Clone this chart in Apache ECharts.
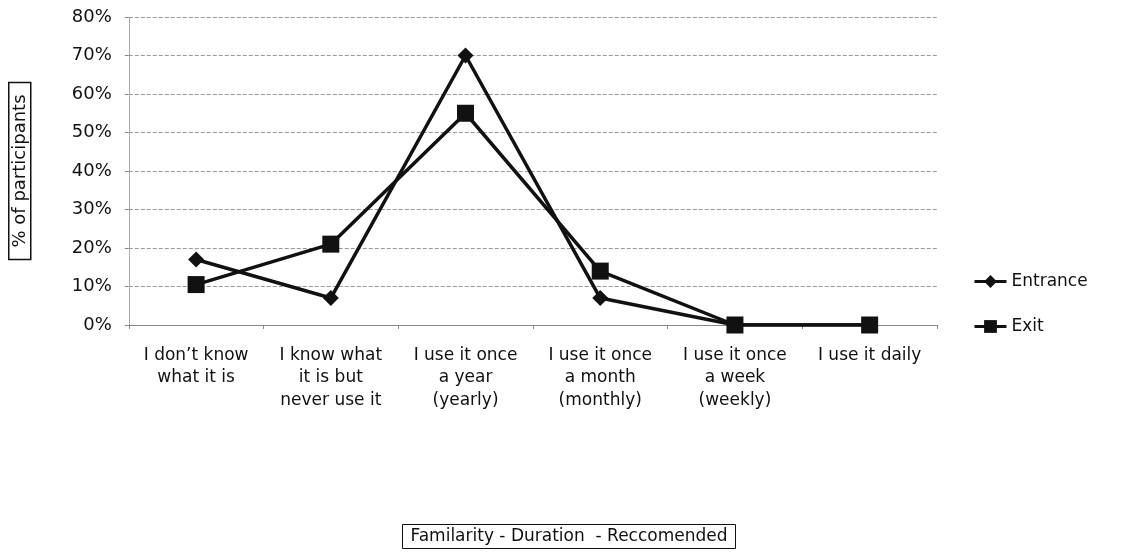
<!DOCTYPE html>
<html>
<head>
<meta charset="utf-8">
<script src="https://cdn.jsdelivr.net/npm/echarts@6/dist/echarts.min.js"></script>
<style>
    html, body { margin: 0; padding: 0; background: #fff; }
    #chart { width: 1138px; height: 554px; }
</style>
</head>
<body>
<div id="chart"></div>
<script>
'use strict';

const categories = [
    'I don\u2019t know\nwhat it is',
    'I know what\nit is but\nnever use it',
    'I use it once\na year\n(yearly)',
    'I use it once\na month\n(monthly)',
    'I use it once\na week\n(weekly)',
    'I use it daily'
];
const entrance = [17, 7, 70, 7, 0, 0];
const exit = [10.5, 21, 55, 14, 0, 0];
const yTicks = [0, 10, 20, 30, 40, 50, 60, 70, 80];

const font = '"DejaVu Sans", sans-serif';

const chart = echarts.init(document.getElementById('chart'));

chart.setOption({
    animation: false,
    backgroundColor: '#fff',
    textStyle: { fontFamily: font, color: '#111' },
    title: {
        text: 'Familarity - Duration  - Reccomended',
        left: 'center',
        top: 524,
        padding: [4, 8, 4, 8],
        borderColor: '#111',
        borderWidth: 1,
        textStyle: { fontFamily: font, fontSize: 17, fontWeight: 'normal', color: '#111' }
    },
    legend: {
        orient: 'vertical',
        left: 968,
        top: 268,
        itemGap: 28,
        itemWidth: 32,
        itemHeight: 16,
        lineStyle: { width: 3 },
        textStyle: { fontFamily: font, fontSize: 17, color: '#111' },
        data: ['Entrance', 'Exit']
    },
    grid: { left: 124, right: 201, top: 17, bottom: 229 },
    xAxis: {
        type: 'category',
        data: categories,
        axisLine: { lineStyle: { color: '#888', width: 1 } },
        axisTick: { show: true, length: 4, lineStyle: { color: '#888' } },
        axisLabel: {
            interval: 0,
            margin: 19,
            fontFamily: font,
            fontSize: 17,
            lineHeight: 22.5,
            color: '#111'
        }
    },
    yAxis: {
        type: 'value',
        min: yTicks[0],
        max: yTicks[yTicks.length - 1],
        interval: 10,
        name: '% of participants',
        nameLocation: 'middle',
        nameRotate: 90,
        nameGap: 98,
        nameTextStyle: {
            fontFamily: font,
            fontSize: 18,
            color: '#111',
            borderColor: '#111',
            borderWidth: 1.5,
            padding: [3, 12, 1, 12]
        },
        axisLine: { show: true, lineStyle: { color: '#999', type: 'dotted' } },
        axisTick: { show: true, length: 4, lineStyle: { color: '#888' } },
        axisLabel: {
            formatter: '{value}%',
            margin: 17,
            fontFamily: font,
            fontSize: 18,
            color: '#111'
        },
        splitLine: { lineStyle: { color: '#999', type: [4, 2], width: 1 } }
    },
    series: [
        {
            name: 'Entrance',
            type: 'line',
            data: entrance,
            symbol: 'diamond',
            symbolSize: 16,
            color: '#111',
            lineStyle: { color: '#111', width: 3.5 },
            itemStyle: { color: '#111' }
        },
        {
            name: 'Exit',
            type: 'line',
            data: exit,
            symbol: 'rect',
            symbolSize: 17,
            color: '#111',
            lineStyle: { color: '#111', width: 3.5 },
            itemStyle: { color: '#111' }
        }
    ]
});
</script>
</body>
</html>
